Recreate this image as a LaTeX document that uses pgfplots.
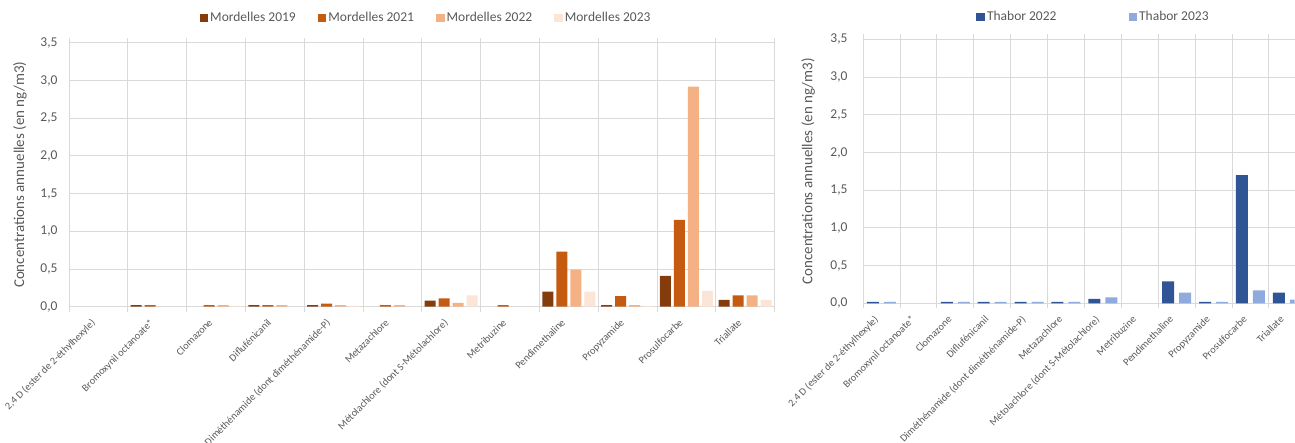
\documentclass[border=0pt]{standalone}
\usepackage{fontspec}
\setmainfont{Carlito}
\usepackage{pgfplots}
\pgfplotsset{compat=1.18}
\definecolor{mA}{HTML}{843C0C}
\definecolor{mB}{HTML}{C55A11}
\definecolor{mC}{HTML}{F4B183}
\definecolor{mD}{HTML}{FBE5D6}
\definecolor{tA}{HTML}{2F5597}
\definecolor{tB}{HTML}{8FAADC}
\definecolor{txt}{HTML}{595959}
\definecolor{grd}{HTML}{D9D9D9}
\pgfplotsset{
  ybar legend/.style={legend image code/.code={\fill[##1] (0pt,-4.3pt) rectangle (8.6pt,4.3pt);}},
  common/.style={
    scale only axis,
    anchor=south west,
    height=263.9pt,
    ymin=0, ymax=3.5, ytick={0,0.5,...,3.5},
    xmin=-0.5,
    xtick={0,...,11},
    xticklabels={{2,4 D (ester de 2-éthylhexyle)},{Bromoxynil octanoate*},Clomazone,Diflufénicanil,{Diméthénamide (dont diméthénamide-P)},Metazachlore,{Métolachlore (dont S-Métolachlore)},Metribuzine,Pendimethaline,Propyzamide,Prosulfocarbe,Triallate},
    minor xtick={-0.5,0.5,...,11.5},
    ymajorgrids, xminorgrids,
    grid style={grd, line width=0.8pt},
    minor grid style={grd, line width=0.8pt},
    axis line style={draw=none},
    major tick length=0pt,
    minor tick length=5pt, tick align=outside,
    minor tick style={grd, line width=0.8pt},
    /pgf/number format/.cd, use comma, fixed, fixed zerofill, precision=1, assume math mode=true,
    /pgfplots/.cd,
    yticklabel style={font=\fontsize{13.5}{13.5}\selectfont, text=txt, anchor=east, xshift=-8pt},
    xticklabel style={xshift=-8pt, yshift=-10pt, rotate=45, anchor=north east, font=\fontsize{10.3}{10.3}\selectfont, text=txt, inner sep=1pt},
    ylabel={Concentrations annuelles (en ng/m3)},
    every axis y label/.style={rotate=90, anchor=center, font=\fontsize{15}{15}\selectfont, text=txt},
    ybar,
    legend columns=-1,
    legend style={draw=none, fill=none, anchor=center, font=\fontsize{13.5}{13.5}\selectfont, text=txt, inner sep=0pt},
  }
}
\begin{document}
\begin{tikzpicture}
\clip (0,0) rectangle (1295pt,443pt);
\begin{axis}[common,
  at={(69pt,136.3pt)}, width=705.6pt, xmax=11.5,
  bar width=11pt, ybar=3pt,
  every axis y label/.append style={at={(axis description cs:-0.0695,0.5)}},
  legend style={at={(axis description cs:0.506,1.094)}, /tikz/every even column/.append style={column sep=20pt}},
]
\addplot[fill=mA, draw=none] coordinates {(1,0.02) (3,0.02) (4,0.02) (6,0.08) (8,0.2) (9,0.02) (10,0.41) (11,0.09)};
\addplot[fill=mB, draw=none] coordinates {(1,0.02) (2,0.02) (3,0.02) (4,0.04) (5,0.02) (6,0.11) (7,0.02) (8,0.73) (9,0.14) (10,1.15) (11,0.15)};
\addplot[fill=mC, draw=none] coordinates {(2,0.02) (3,0.02) (4,0.02) (5,0.02) (6,0.05) (8,0.49) (9,0.02) (10,2.92) (11,0.15)};
\addplot[fill=mD, draw=none] coordinates {(2,0.01) (4,0.01) (6,0.15) (8,0.2) (9,0.01) (10,0.21) (11,0.09)};
\legend{Mordelles 2019, Mordelles 2021, Mordelles 2022, Mordelles 2023}
\end{axis}
\begin{axis}[common,
  at={(863pt,139.7pt)}, width=431.7pt, xmax=11.2,
  bar width=12pt, ybar=5pt,
  yticklabel style={xshift=-4pt},
  every axis y label/.append style={at={(axis description cs:-0.127,0.5)}},
  legend style={at={(axis description cs:0.534,1.085)}, /tikz/every even column/.append style={column sep=70pt}},
]
\addplot[fill=tA, draw=none] coordinates {(0,0.02) (2,0.02) (3,0.02) (4,0.02) (5,0.02) (6,0.06) (8,0.29) (9,0.02) (10,1.70) (11,0.14)};
\addplot[fill=tB, draw=none] coordinates {(0,0.02) (2,0.02) (3,0.02) (4,0.02) (5,0.02) (6,0.08) (8,0.14) (9,0.02) (10,0.17) (11,0.05)};
\legend{Thabor 2022, Thabor 2023}
\end{axis}
\end{tikzpicture}
\end{document}
